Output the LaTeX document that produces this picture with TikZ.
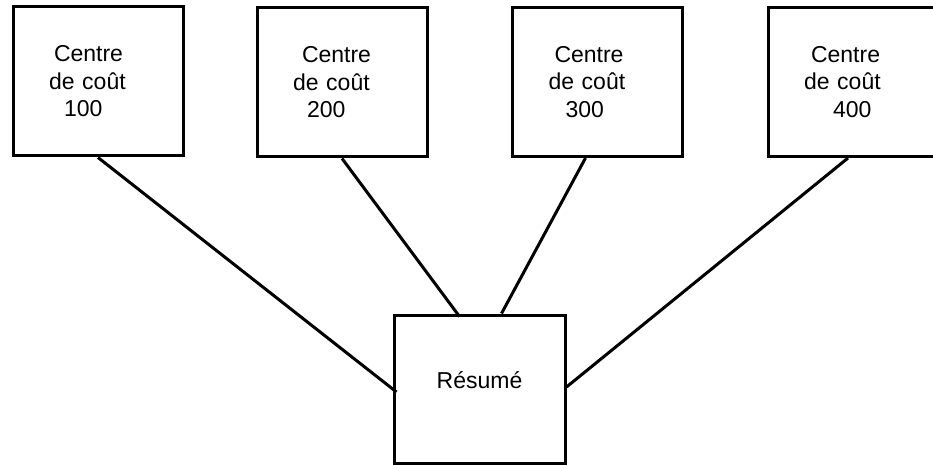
\documentclass[tikz,border=0pt]{standalone}
\usepackage{fontspec}
\setmainfont{Liberation Sans}

\begin{document}
\begin{tikzpicture}[x=1pt, y=-1pt, every path/.style={line width=3pt},
    costbox/.style={draw, rectangle, minimum width=170pt, minimum height=149pt, inner xsep=36pt, text width=98pt, align=left, font=\fontsize{23}{27.5}\selectfont},
    sumbox/.style={draw, rectangle, minimum width=171pt, minimum height=148pt, text depth=18pt, font=\fontsize{23}{27.5}\selectfont}]
    \fill [white] (0, 0) rectangle (933, 465);
    \useasboundingbox (0, 0) rectangle (933, 465);

    \node (c100) [costbox, at={(98, 81.5)}] {\hspace*{5pt}Centre\\de coût\\\hspace*{15pt}100};
    \node (c200) [costbox, at={(342, 82.5)}] {\hspace*{9pt}Centre\\de coût\\\hspace*{14pt}200};
    \node (c300) [costbox, at={(597.5, 82)}] {\hspace*{6pt}Centre\\de coût\\\hspace*{17pt}300};
    \node (c400) [costbox, at={(853, 82)}] {\hspace*{7pt}Centre\\de coût\\\hspace*{29pt}400};
    \node (resume) [sumbox, at={(479.5, 389)}] {Résumé};

    \draw (c100.south) -- ([xshift=4pt, yshift=-3pt] resume.west);
    \draw (c200.south) -- ([xshift=-20pt, yshift=-3pt] resume.north);
    \draw ([xshift=-12pt] c300.south) -- ([xshift=22pt] resume.north);
    \draw ([xshift=-5pt] c400.south) -- ([yshift=2pt] resume.east);
\end{tikzpicture}
\end{document}
